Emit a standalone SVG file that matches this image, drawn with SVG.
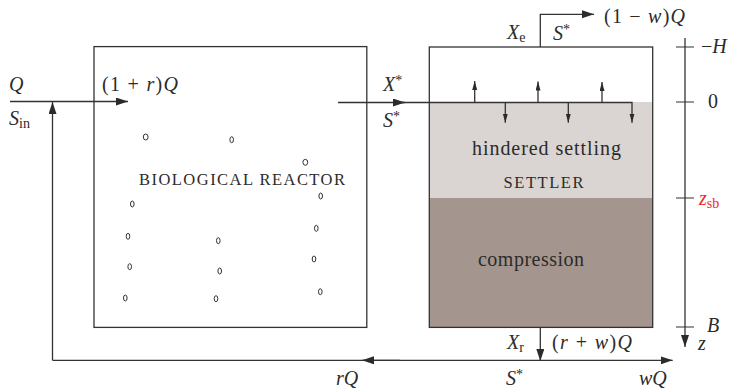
<svg xmlns="http://www.w3.org/2000/svg" width="735" height="391" viewBox="0 0 735 391">
<style>
text{font-family:"Liberation Serif","Times New Roman",serif;fill:#2b2b2b;font-size:20px}
.i{font-style:italic}
.sub{font-size:14px}
.sc{font-size:16.5px}
.lab{font-size:20px}
.box{fill:none;stroke:#333;stroke-width:1.3}
.l{fill:none;stroke:#333;stroke-width:1.3}
.t{fill:none;stroke:#333;stroke-width:1.1}
.b{fill:none;stroke:#333;stroke-width:1}
</style>
<defs>
<marker id="big" markerUnits="userSpaceOnUse" markerWidth="13" markerHeight="9" refX="12" refY="4" orient="auto"><path d="M0 0L12 4L0 8Z" fill="#2b2b2b"/></marker>
<marker id="small" markerUnits="userSpaceOnUse" markerWidth="10" markerHeight="7" refX="9" refY="2.5" orient="auto"><path d="M0 0L9 2.5L0 5Z" fill="#2b2b2b"/></marker>
</defs>
<g id="reactor">
<rect class="box" x="94" y="46.6" width="272.8" height="280.8"/>
<text class="sc" x="139" y="185" textLength="206">BIOLOGICAL REACTOR</text>
<g id="bubbles">
<ellipse class="b" cx="145.7" cy="137" rx="2.4" ry="3"/>
<ellipse class="b" cx="231.7" cy="139.7" rx="1.8" ry="3"/>
<ellipse class="b" cx="305.3" cy="162.3" rx="2.4" ry="3"/>
<ellipse class="b" cx="320.7" cy="196" rx="1.8" ry="3"/>
<ellipse class="b" cx="132.3" cy="204" rx="1.8" ry="3"/>
<ellipse class="b" cx="316.3" cy="228.3" rx="1.8" ry="3"/>
<ellipse class="b" cx="128" cy="236.3" rx="1.8" ry="3"/>
<ellipse class="b" cx="218.3" cy="240.7" rx="1.8" ry="3"/>
<ellipse class="b" cx="314" cy="259" rx="1.8" ry="3"/>
<ellipse class="b" cx="129.7" cy="266.7" rx="1.8" ry="3"/>
<ellipse class="b" cx="219.7" cy="271" rx="1.8" ry="3"/>
<ellipse class="b" cx="320.3" cy="291.7" rx="1.8" ry="3"/>
<ellipse class="b" cx="125.3" cy="298" rx="1.8" ry="3"/>
<ellipse class="b" cx="216" cy="298.7" rx="1.8" ry="3"/>
</g>
</g>
<g id="settler">
<rect x="429.3" y="102" width="223.4" height="96" fill="#dad5d2"/>
<rect x="429.3" y="198" width="223.4" height="129.4" fill="#a4968f"/>
<rect class="box" x="429.3" y="47" width="223.4" height="280.4"/>
<text class="lab" x="472" y="155" textLength="149">hindered settling</text>
<text class="sc" x="503.5" y="188" textLength="80">SETTLER</text>
<text class="lab" x="478" y="266" textLength="106">compression</text>
</g>
<g id="connectors">
<path class="l" d="M10 101.5H128" marker-end="url(#big)"/>
<path class="l" d="M52.5 360.3V102" marker-end="url(#big)"/>
<path class="l" d="M52.5 360.3H672.7" marker-end="url(#big)"/>
<path class="l" d="M400 360.3H362" marker-end="url(#big)"/>
<path class="l" d="M338 102.5H405" marker-end="url(#big)"/>
<path class="l" d="M400 102.5H632V122.7" marker-end="url(#small)"/>
<path class="l" d="M474.7 102.5V81" marker-end="url(#small)"/>
<path class="l" d="M538 102.5V81.5" marker-end="url(#small)"/>
<path class="l" d="M602 102.5V82" marker-end="url(#small)"/>
<path class="l" d="M505.3 102.5V122.7" marker-end="url(#small)"/>
<path class="l" d="M568.3 102.5V122.7" marker-end="url(#small)"/>
<path class="l" d="M540.3 47V14.3H594" marker-end="url(#big)"/>
<path class="l" d="M540.3 327.4V361" marker-end="url(#big)"/>
</g>
<g id="axis">
<path class="l" d="M685 38V347" marker-end="url(#big)"/>
<path class="t" d="M676 47H694M676 102H694M676 198H694M676 327H694"/>
</g>
<g id="labels">
<text class="i" x="9" y="91">Q</text>
<text x="102" y="91" textLength="76">(1 + <tspan class="i">r</tspan>)<tspan class="i">Q</tspan></text>
<text x="9" y="125"><tspan class="i">S</tspan><tspan class="sub" dy="3">in</tspan></text>
<text class="i" x="383" y="91">X<tspan class="sub" font-style="normal" dy="-6">*</tspan></text>
<text class="i" x="383" y="127">S<tspan class="sub" font-style="normal" dy="-6">*</tspan></text>
<text class="i" x="507" y="39">X<tspan class="sub" font-style="normal" dy="3">e</tspan></text>
<text class="i" x="553" y="40">S<tspan class="sub" font-style="normal" dy="-6">*</tspan></text>
<text x="604" y="23" textLength="81">(1 − <tspan class="i">w</tspan>)<tspan class="i">Q</tspan></text>
<text x="701" y="53">−<tspan class="i">H</tspan></text>
<text x="708" y="108">0</text>
<text class="i" x="699" y="205" style="fill:#f0252b">z<tspan class="sub" font-style="normal" dy="3" style="fill:#f0252b">sb</tspan></text>
<text class="i" x="707" y="332">B</text>
<text class="i" x="698" y="350">z</text>
<text class="i" x="507" y="349">X<tspan class="sub" font-style="normal" dy="3">r</tspan></text>
<text x="552" y="349" textLength="80">(<tspan class="i">r</tspan> + <tspan class="i">w</tspan>)<tspan class="i">Q</tspan></text>
<text class="i" x="336" y="385">rQ</text>
<text class="i" x="506" y="385">S<tspan class="sub" font-style="normal" dy="-6">*</tspan></text>
<text class="i" x="639" y="385">wQ</text>
</g>
</svg>
